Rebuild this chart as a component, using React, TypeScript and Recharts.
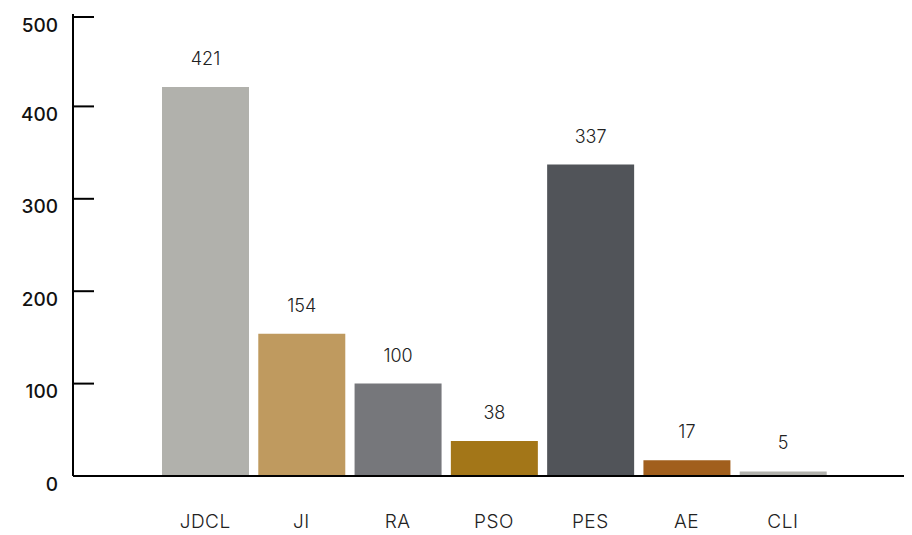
import { BarChart, Bar, XAxis, YAxis, Cell, LabelList } from "recharts"

const categories = ["JDCL", "JI", "RA", "PSO", "PES", "AE", "CLI"]
const counts = [421, 154, 100, 38, 337, 17, 5]
const barColors = ["#b1b1ac", "#bf9a5f", "#76777b", "#a37618", "#515459", "#a15f1d", "#b1b1ac"]
const yTicks = [0, 100, 200, 300, 400, 500]

const data = categories.map((name, i) => ({ name, value: counts[i] }))

const FONT = "Inter, 'Open Sans', sans-serif"

// ticks point inward (to the right of the axis), labels sit to the left and a bit lower
function YTick(props: any) {
  const { x, y, payload } = props
  return (
    <g>
      <line x1={x} x2={x + 21} y1={y} y2={y} stroke="#000" strokeWidth={2} />
      <text x={x - 15} y={y + 8} dy="0.35em" textAnchor="end" fontSize={19} fontWeight={500} fill="#111" fontFamily={FONT}>
        {payload.value}
      </text>
    </g>
  )
}

export default function App() {
  return (
    <div style={{ width: 904, height: 527 }}>
      <BarChart width={904} height={527} data={data} margin={{ top: 6, right: 0, left: 0, bottom: 0 }} barSize={87}>
        <XAxis
          dataKey="name"
          height={59}
          padding={{ left: 84, right: 81 }}
          axisLine={{ stroke: "#000", strokeWidth: 2 }}
          tickLine={false}
          tickSize={0}
          tickMargin={39}
          tick={{ fill: "#222", fontSize: 19, fontWeight: 300, fontFamily: FONT, letterSpacing: 0.5 }}
          interval={0}
        />
        <YAxis
          width={65}
          domain={[0, 500]}
          ticks={yTicks}
          axisLine={{ stroke: "#000", strokeWidth: 2 }}
          tickLine={false}
          tickSize={0}
          tickMargin={0}
          tick={<YTick />}
        />
        <Bar dataKey="value" isAnimationActive={false}>
          {data.map((d, i) => (
            <Cell key={d.name} fill={barColors[i]} />
          ))}
          <LabelList dataKey="value" position="top" offset={22} fill="#222" fontSize={18} fontWeight={300} fontFamily={FONT} />
        </Bar>
      </BarChart>
    </div>
  )
}
